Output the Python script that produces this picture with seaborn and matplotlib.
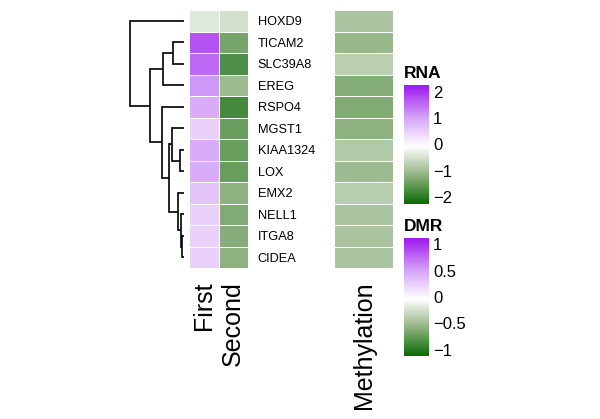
import numpy as np
import pandas as pd
import matplotlib
matplotlib.use("Agg")
import matplotlib.pyplot as plt
import seaborn as sns
from matplotlib.colors import LinearSegmentedColormap
from matplotlib.ticker import FuncFormatter

#genes in dendrogram order
genes = ['HOXD9', 'TICAM2', 'SLC39A8', 'EREG', 'RSPO4', 'MGST1', 'KIAA1324',
         'LOX', 'EMX2', 'NELL1', 'ITGA8', 'CIDEA']
first = [-0.3, 1.8, 1.6, 1.2, 1.0, 0.55, 1.0, 1.0, 0.7, 0.55, 0.55, 0.55]
second = [-0.45, -1.3, -1.6, -0.95, -1.7, -1.4, -1.4, -1.4, -1.1, -1.2, -1.15, -1.1]
methylation = [-0.41, -0.5, -0.34, -0.58, -0.6, -0.55, -0.38, -0.48, -0.35, -0.42, -0.42, -0.42]
rna_ticks = [-2, -1, 0, 1, 2]
dmr_ticks = [-1, -0.5, 0, 0.5, 1]
#tree merges: (node, left, right, height)
merges = [
    ('C', 'TICAM2', 'SLC39A8', 10.0),
    ('B', 'C', 'EREG', 20.6),
    ('G', 'KIAA1324', 'LOX', 3.3),
    ('F', 'MGST1', 'G', 11.0),
    ('J', 'ITGA8', 'CIDEA', 1.6),
    ('I', 'NELL1', 'J', 2.6),
    ('H', 'EMX2', 'I', 5.0),
    ('E', 'F', 'H', 14.0),
    ('D', 'RSPO4', 'E', 21.6),
    ('A', 'B', 'D', 33.3),
    ('root', 'HOXD9', 'A', 53.3),
]

sns.set_style("white")
plt.rcParams['font.family'] = ['Liberation Sans', 'DejaVu Sans']
plt.rcParams['text.color'] = 'black'
plt.rcParams['xtick.color'] = 'black'
plt.rcParams['ytick.color'] = 'black'

cmap = LinearSegmentedColormap.from_list(
    'gp', ['#006400', '#8BB07D', '#FFFFFF', '#D3A1F8', '#A020F0'])

W, H = 600, 419
fig = plt.figure(figsize=(6, 4.19), dpi=100)
def box(x0, y0, x1, y1):
    return [x0 / W, 1 - y1 / H, (x1 - x0) / W, (y1 - y0) / H]

ax_d = fig.add_axes(box(130, 10, 183.5, 268))
ax_h = fig.add_axes(box(189, 10, 248, 268))
ax_m = fig.add_axes(box(334, 10, 393, 268))
cax_r = fig.add_axes(box(404, 85, 429, 204))
cax_d = fig.add_axes(box(404, 238, 429, 356))

fmt = FuncFormatter(lambda v, p: f"{v:g}".replace('-', '\u2212'))

expr = pd.DataFrame({'First': first, 'Second': second}, index=genes)
sns.heatmap(expr, ax=ax_h, cmap=cmap, vmin=-2.25, vmax=2.25, cbar_ax=cax_r,
            linewidths=0.6, linecolor='white', cbar_kws={'ticks': rna_ticks})
ax_h.yaxis.tick_right()
ax_h.set_yticklabels(genes, rotation=0, fontsize=9.2, color='black')
ax_h.tick_params(axis='y', length=0, pad=7)
ax_h.set_xticklabels(['First', 'Second'], rotation=90, fontsize=18, color='black')
ax_h.tick_params(axis='x', length=0, pad=9.5)
ax_h.set_xlabel('')

meth = pd.DataFrame({'Methylation': methylation}, index=genes)
sns.heatmap(meth, ax=ax_m, cmap=cmap, vmin=-1.12, vmax=1.12, cbar_ax=cax_d,
            linewidths=0.6, linecolor='white', yticklabels=False,
            cbar_kws={'ticks': dmr_ticks})
ax_m.set_xticklabels(['Methylation'], rotation=90, fontsize=18, color='black')
ax_m.tick_params(axis='x', length=0, pad=9.5)

for cax, title in [(cax_r, 'RNA'), (cax_d, 'DMR')]:
    for c in cax.collections:
        c.set_edgecolor('face')
    cax.yaxis.set_major_formatter(fmt)
    cax.tick_params(axis='y', direction='in', left=True, right=True,
                    color='white', labelcolor='black', length=4, width=1,
                    labelsize=12, pad=3)
    for sp in cax.spines.values():
        sp.set_visible(False)
    cax.set_title(title, loc='left', fontweight='bold', fontsize=12.5, pad=5,
                  color='black')

#dendrogram
pos = {g: i + 0.5 for i, g in enumerate(genes)}
hgt = {g: 0.0 for g in genes}
for node, l, r, h in merges:
    for child in (l, r):
        ax_d.plot([hgt[child], h], [pos[child], pos[child]], color='black', lw=1.2,
                  clip_on=False, solid_capstyle='butt')
    ax_d.plot([h, h], [pos[l], pos[r]], color='black', lw=1.2, clip_on=False,
              solid_capstyle='projecting')
    pos[node] = (pos[l] + pos[r]) / 2
    hgt[node] = h
ax_d.set_xlim(merges[-1][3], 0)
ax_d.set_ylim(len(genes), 0)
ax_d.axis('off')

fig.savefig('out.png', dpi=100)
